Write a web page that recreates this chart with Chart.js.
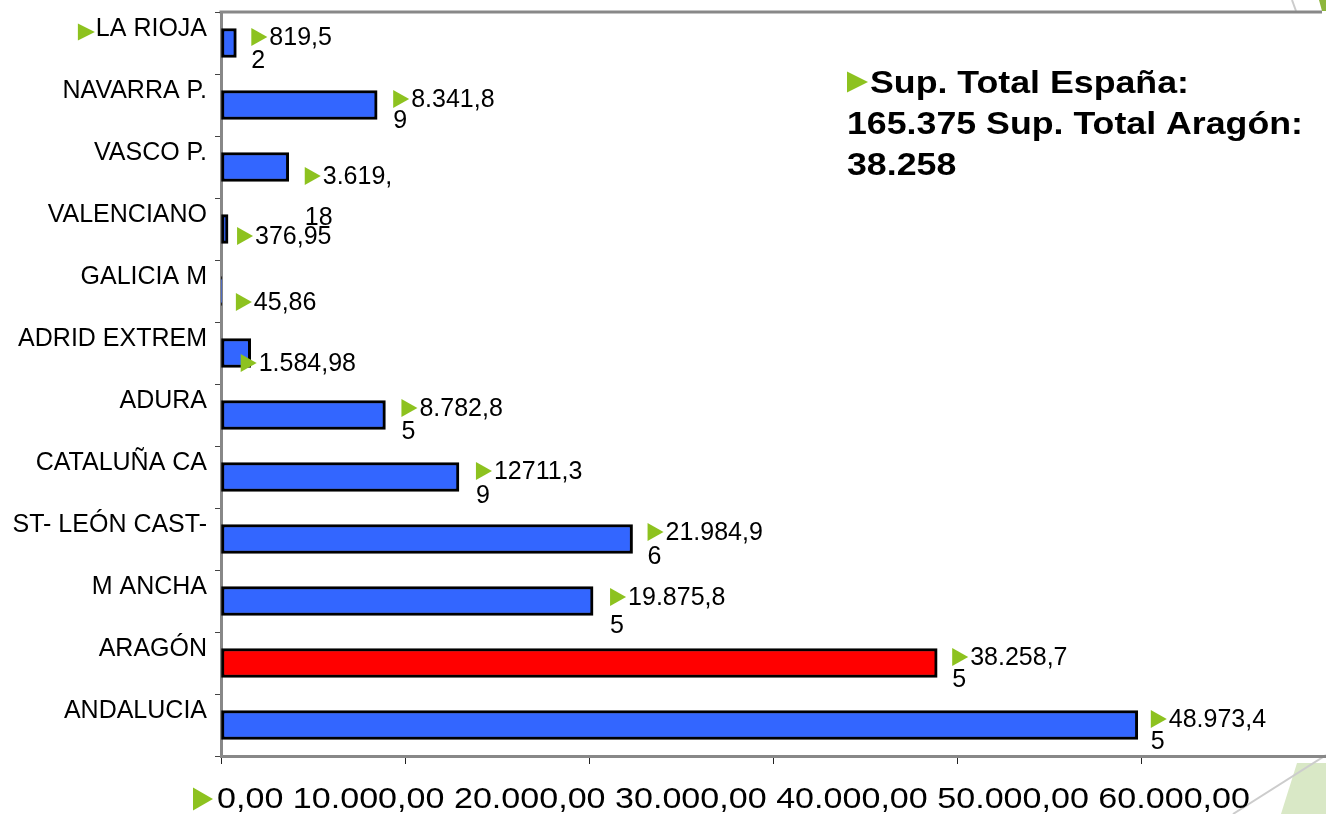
<!DOCTYPE html>
<html>
<head>
<meta charset="utf-8">
<script src="https://cdn.jsdelivr.net/npm/chart.js@4.4.0/dist/chart.umd.min.js"></script>
<style>
  html, body { margin: 0; padding: 0; background: #fff; overflow: hidden; }
</style>
</head>
<body>
<canvas id="chart" width="1326" height="814"></canvas>
<script>
var categories = ['LA RIOJA', 'NAVARRA P.', 'VASCO P.', 'VALENCIANO', 'GALICIA M', 'ADRID EXTREM',
  'ADURA', 'CATALUÑA CA', 'ST- LEÓN CAST-', 'M ANCHA', 'ARAGÓN', 'ANDALUCIA'];
var superficie = [819.52, 8341.89, 3619.18, 376.95, 45.86, 1584.98,
  8782.85, 12711.39, 21984.96, 19875.85, 38258.75, 48973.45];
var valueLabels = [['819,5', '2'], ['8.341,8', '9'], ['3.619,', '18'], ['376,95'], ['45,86'], ['1.584,98'],
  ['8.782,8', '5'], ['12711,3', '9'], ['21.984,9', '6'], ['19.875,8', '5'], ['38.258,7', '5'], ['48.973,4', '5']];
var tickLabels = ['0,00', '10.000,00', '20.000,00', '30.000,00', '40.000,00', '50.000,00', '60.000,00'];
var summaryLines = ['Sup. Total España:', '165.375 Sup. Total Aragón:', '38.258'];
var highlight = 'ARAGÓN';

// label placement tweaks (x from bar end, y from bar centre, gap to 2nd line)
var labelDx = [15, 16, 16, 9, 14, -10, 16, 17, 15, 17, 15, 13];
var labelDy = [-6, -6, 9, 7, 11, 10, -7, -6, -7, -4, -6, -6];
var labelGap = [23, 21, 41, 0, 0, 0, 23, 24, 24, 28, 22, 22];

var GREEN = '#8DC21F';
var FONT = '"Liberation Sans", Arial, sans-serif';
var PX_PER_50K = 936; // width of 0..50.000 on the slide

function tri(ctx, x, yc, w, h) {
  ctx.beginPath();
  ctx.moveTo(x, yc - h / 2);
  ctx.lineTo(x + w, yc);
  ctx.lineTo(x, yc + h / 2);
  ctx.closePath();
  ctx.fillStyle = GREEN;
  ctx.fill();
}

function scaledText(ctx, text, x, y, sx) {
  ctx.save();
  ctx.translate(x, y);
  ctx.scale(sx, 1);
  ctx.fillText(text, 0, 0);
  ctx.restore();
}

var extras = {
  id: 'extras',
  beforeDraw: function (chart) {
    var ctx = chart.ctx, a = chart.chartArea;
    ctx.save();
    // slide decorations
    ctx.fillStyle = '#D9E8C6';
    ctx.beginPath();
    ctx.moveTo(1297, 763); ctx.lineTo(1326, 763); ctx.lineTo(1326, 814); ctx.lineTo(1281, 814);
    ctx.closePath(); ctx.fill();
    ctx.strokeStyle = '#CCCCCC'; ctx.lineWidth = 2;
    ctx.beginPath(); ctx.moveTo(1326, 755); ctx.lineTo(1233, 814); ctx.stroke();
    ctx.beginPath(); ctx.moveTo(1292, 0); ctx.lineTo(1296, 11); ctx.stroke();
    ctx.fillStyle = '#8DB63C';
    ctx.beginPath(); ctx.moveTo(1319, 0); ctx.lineTo(1326, 0); ctx.lineTo(1326, 11); ctx.lineTo(1322, 11);
    ctx.closePath(); ctx.fill();
    // top frame line
    ctx.strokeStyle = '#888888'; ctx.lineWidth = 3;
    ctx.beginPath(); ctx.moveTo(a.left - 1.5, a.top); ctx.lineTo(1322, a.top); ctx.stroke();
    ctx.restore();
  },
  afterDatasetsDraw: function (chart) {
    var ctx = chart.ctx;
    var meta = chart.getDatasetMeta(0);
    ctx.save();
    ctx.font = '25px ' + FONT;
    ctx.textBaseline = 'middle';
    ctx.textAlign = 'left';
    meta.data.forEach(function (bar, i) {
      var x = bar.x + labelDx[i];
      var y = bar.y + labelDy[i];
      tri(ctx, x, y, 16, 18);
      ctx.fillStyle = '#000';
      ctx.fillText(valueLabels[i][0], x + 18, y + 1);
      if (valueLabels[i][1]) ctx.fillText(valueLabels[i][1], x, y + labelGap[i] + 1);
    });

    // triangle in front of the first category
    var ys = chart.scales.y;
    ctx.font = '25px ' + FONT;
    var w = ctx.measureText(categories[0]).width;
    tri(ctx, ys.right - 6 - 8 - w - 18, ys.getPixelForTick(0) - 11, 17, 17);

    // x axis value row (as in the slide, one run of text)
    var row = tickLabels.join(' ');
    ctx.font = '30px ' + FONT;
    ctx.textBaseline = 'alphabetic';
    ctx.fillStyle = '#000';
    var sx = 1033 / ctx.measureText(row).width;
    tri(ctx, 193, 799, 20, 23);
    ctx.fillStyle = '#000';
    scaledText(ctx, row, 217, 808, sx);

    // summary box
    ctx.font = 'bold 31px ' + FONT;
    var sx2 = 456 / ctx.measureText(summaryLines[1]).width;
    tri(ctx, 847, 82, 21, 21);
    ctx.fillStyle = '#000';
    scaledText(ctx, summaryLines[0], 870, 93, sx2);
    scaledText(ctx, summaryLines[1], 847, 134, sx2);
    scaledText(ctx, summaryLines[2], 847, 175, sx2);
    ctx.restore();
  }
};

var ctx = document.getElementById('chart').getContext('2d');
var chart = new Chart(ctx, {
  type: 'bar',
  data: {
    labels: categories,
    datasets: [{
      data: superficie,
      backgroundColor: categories.map(function (c) { return c === highlight ? '#FF0000' : '#3366FF'; }),
      borderColor: '#000000',
      borderWidth: 3,
      borderSkipped: false,
      barThickness: 29
    }]
  },
  options: {
    indexAxis: 'y',
    responsive: false,
    animation: false,
    devicePixelRatio: 1,
    layout: { padding: { top: 12, left: 0, right: 0, bottom: 0 } },
    plugins: {
      legend: { display: false },
      tooltip: { enabled: false }
    },
    scales: {
      x: {
        min: 0,
        max: 59030,
        ticks: { display: false, stepSize: 10000, includeBounds: false },
        grid: { drawOnChartArea: false, drawTicks: true, tickLength: 8, tickColor: '#222', tickWidth: 1 },
        border: { color: '#888888', width: 3 },
        afterFit: function (s) {
          s.height = 58;
          s.paddingLeft = 0; s.paddingRight = 0;
        }
      },
      y: {
        ticks: {
          color: '#000',
          font: { family: FONT, size: 25 },
          padding: 8,
          labelOffset: -14,
          autoSkip: false
        },
        grid: { drawOnChartArea: false, tickLength: 6, tickColor: '#444', tickWidth: 1 },
        border: { color: '#888888', width: 3 },
        afterFit: function (s) {
          s.width = 221;
          s.paddingTop = 0; s.paddingBottom = 0;
        }
      }
    }
  },
  plugins: [extras]
});

// the plot runs off the slide on the right: keep the slide's 0..50.000 spacing
var area = chart.chartArea;
chart.options.scales.x.max = (area.right - area.left) * 50000 / PX_PER_50K;
chart.update('none');
</script>
</body>
</html>
